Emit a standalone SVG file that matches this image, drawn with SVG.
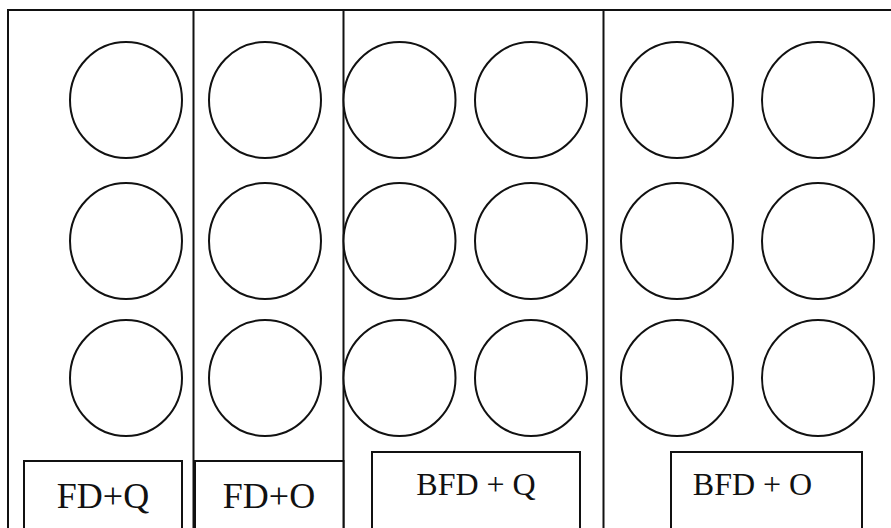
<svg xmlns="http://www.w3.org/2000/svg" width="891" height="528" viewBox="0 0 891 528">
<style>
.ln{stroke:#111;stroke-width:2;fill:none}
.c{stroke:#111;stroke-width:2;fill:#fff}
.bx{stroke:#111;stroke-width:2;fill:#fff}
.t{font-family:"Liberation Serif","Times New Roman",serif;fill:#111;text-anchor:middle}
</style>
<rect width="891" height="528" fill="#fff"/>
<g id="frame">
<path class="ln" d="M8 530 V10 H893"/>
<path class="ln" d="M193.5 10 V530 M343.5 10 V530 M603.5 10 V530"/>
</g>
<g id="wells">
<g id="col1"><ellipse class="c" cx="126" cy="100" rx="56" ry="58"/><ellipse class="c" cx="126" cy="241" rx="56" ry="58"/><ellipse class="c" cx="126" cy="378" rx="56" ry="58"/></g>
<g id="col2"><ellipse class="c" cx="265" cy="100" rx="56" ry="58"/><ellipse class="c" cx="265" cy="241" rx="56" ry="58"/><ellipse class="c" cx="265" cy="378" rx="56" ry="58"/></g>
<g id="col3"><ellipse class="c" cx="399.5" cy="100" rx="56" ry="58"/><ellipse class="c" cx="399.5" cy="241" rx="56" ry="58"/><ellipse class="c" cx="399.5" cy="378" rx="56" ry="58"/></g>
<g id="col4"><ellipse class="c" cx="531" cy="100" rx="56" ry="58"/><ellipse class="c" cx="531" cy="241" rx="56" ry="58"/><ellipse class="c" cx="531" cy="378" rx="56" ry="58"/></g>
<g id="col5"><ellipse class="c" cx="677" cy="100" rx="56" ry="58"/><ellipse class="c" cx="677" cy="241" rx="56" ry="58"/><ellipse class="c" cx="677" cy="378" rx="56" ry="58"/></g>
<g id="col6"><ellipse class="c" cx="818" cy="100" rx="56" ry="58"/><ellipse class="c" cx="818" cy="241" rx="56" ry="58"/><ellipse class="c" cx="818" cy="378" rx="56" ry="58"/></g>
</g>
<g id="label-fdq"><rect class="bx" x="24" y="461" width="158" height="80"/><text class="t" x="103" y="508" font-size="36">FD+Q</text></g>
<g id="label-fdo"><rect class="bx" x="195" y="461" width="148.5" height="80"/><text class="t" x="269" y="508" font-size="36">FD+O</text></g>
<g id="label-bfdq"><rect class="bx" x="372" y="452" width="208" height="90"/><text class="t" x="476" y="495" font-size="32">BFD + Q</text></g>
<g id="label-bfdo"><rect class="bx" x="671" y="452" width="191" height="90"/><text class="t" x="752.5" y="495" font-size="32">BFD + O</text></g>
</svg>
